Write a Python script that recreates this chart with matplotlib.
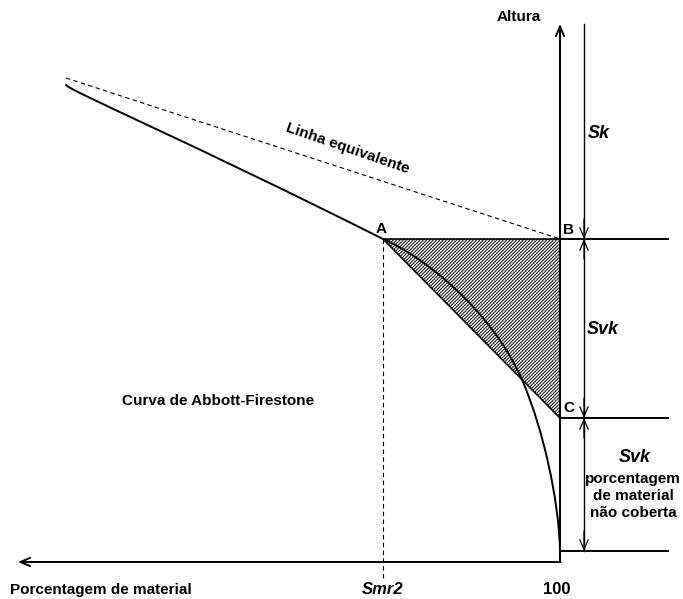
#Abbott-Firestone bearing curve with the Sk / Svk construction
import numpy as np; import matplotlib.pyplot as plt
import matplotlib.patches as mpatches
from matplotlib.path import Path

plt.rcParams['font.family'] = ['Liberation Sans', 'DejaVu Sans']
plt.rcParams['hatch.color'] = '#666666'
plt.rcParams['hatch.linewidth'] = 0.7

#Geometry (drawing units, y grows downwards)
x_100 = 560          #100 % material line / height axis
x_smr2 = 383         #Smr2
x_dim = 584          #dimension line
x_right = 668        #end of level lines
y_top = 24           #top of height axis
y_base = 562         #material axis
x_left = 18          #tip of material axis
y_B = 239            #upper level (A, B)
y_C = 418            #lower level (C)
y_end = 551          #bottom of curve

#Equivalent line end point on the left
eq_x0, eq_y0 = 66, 78

#Bearing curve as cubic bezier pieces: start, then (ctrl1, ctrl2, end) per piece
curve_start = (66, 85)
curve_pieces = [
    ((70, 91), (190, 142), (383, 239)),   # upper plateau down to A
    ((423, 256), (493, 311), (523, 382)), # A to crossing with A-C
    ((543, 429), (559, 500), (560, 551)), # valley part down to 100 %
]

fig = plt.figure(figsize=(6.83, 5.99), dpi=100)
ax = fig.add_axes([0, 0, 1, 1])
ax.set_xlim(0, 683)
ax.set_ylim(599, 0)
ax.axis('off')

#hatched triangle A-B-C
tri = mpatches.Polygon([[x_smr2, y_B], [x_100, y_B], [x_100, y_C]], closed=True,
                       facecolor='white', edgecolor='black', lw=1.2, hatch='//////////')
ax.add_patch(tri)

#curve
verts = [curve_start]
codes = [Path.MOVETO]
for c1, c2, end in curve_pieces:
    verts += [c1, c2, end]
    codes += [Path.CURVE4] * 3
ax.add_patch(mpatches.PathPatch(Path(verts, codes), facecolor='none', edgecolor='black',
                                lw=1.4, capstyle='round'))

#dashed lines
ax.plot([eq_x0, x_100], [eq_y0, y_B], color='black', lw=0.8, ls=(0, (4, 3)))
ax.plot([x_smr2, x_smr2], [y_B, 578], color='black', lw=0.8, ls=(0, (4, 3)))

#axes with open arrow heads
ax.annotate('', xy=(x_100, y_top), xytext=(x_100, y_base),
            arrowprops=dict(arrowstyle='->,head_length=0.7,head_width=0.3', lw=1.4, color='black',
                            shrinkA=0, shrinkB=0))
ax.annotate('', xy=(x_left, y_base), xytext=(x_100 + 0.7, y_base),
            arrowprops=dict(arrowstyle='->,head_length=0.7,head_width=0.3', lw=1.4, color='black',
                            shrinkA=0, shrinkB=0))

#level lines
for yy in [y_B, y_C, y_end]:
    ax.plot([x_100, x_right], [yy, yy], color='black', lw=1.4)

#dimension line with arrows
ax.plot([x_dim, x_dim], [y_top, y_end], color='black', lw=1.0)
arr = dict(arrowstyle='->,head_length=0.7,head_width=0.3', lw=0.9, color='black',
           shrinkA=0, shrinkB=0)
for yy, d in [(y_B, -1), (y_B, 1), (y_C, -1), (y_C, 1), (y_end, -1)]:
    ax.annotate('', xy=(x_dim, yy), xytext=(x_dim, yy + 20 * d), arrowprops=arr)

#labels
bold = dict(fontsize=11, fontweight='bold', ha='center', va='center')
bi = dict(fontsize=13, fontweight='bold', style='italic', ha='center', va='center')
ax.text(519, 17, 'Altura', **bold)
ax.text(381, 229, 'A', **bold)
ax.text(569, 230, 'B', **bold)
ax.text(569, 408, 'C', **bold)
ax.text(599, 133, 'Sk', **bi)
ax.text(603, 330, 'Svk', **bi)
ax.text(635, 458, 'Svk', **bi)
ax.text(633, 496, 'porcentagem\nde material\nnão coberta', linespacing=1.3, **bold)
ax.text(218, 401, 'Curva de Abbott-Firestone', **bold)
ax.text(348, 148, 'Linha equivalente', rotation=-19, rotation_mode='anchor', **bold)
ax.text(101, 590, 'Porcentagem de material', **bold)
ax.text(x_smr2, 590, 'Smr2', fontsize=12, fontweight='bold', style='italic',
        ha='center', va='center')
ax.text(557, 590, '100', fontsize=12, fontweight='bold', ha='center', va='center')

fig.savefig('out.png', dpi=100)
